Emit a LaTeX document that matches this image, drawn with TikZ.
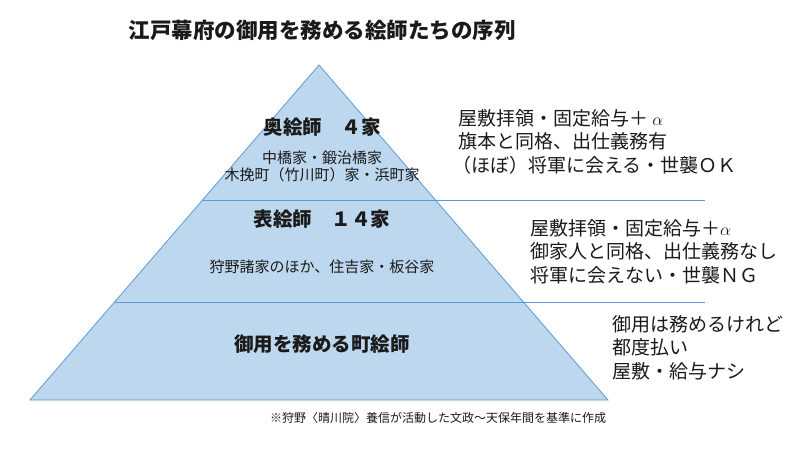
\documentclass[tikz,border=0pt]{standalone}
\usepackage{fontspec}
\setmainfont{Noto Sans CJK JP}
\definecolor{tri}{HTML}{BDD7EE}
\definecolor{edge}{HTML}{5B9BD5}
\definecolor{txt}{HTML}{1A1A1A}
\begin{document}
\begin{tikzpicture}[x=1pt,y=-1pt,
  big/.style={font=\fontsize{19.5}{22}\selectfont\bfseries,text=txt},
  small/.style={font=\fontsize{15}{17}\selectfont,text=txt,align=center},
  side/.style={font=\fontsize{19}{23.5}\selectfont,text=txt,align=left,anchor=north west,inner sep=0pt}]
\useasboundingbox (0,0) rectangle (800,453);
\fill[white] (0,0) rectangle (800,453);
\draw[fill=tri,draw=edge,line width=0.8pt] (319,65) -- (608,400) -- (30,400) -- cycle;
\coordinate (l1) at (202.5,200); \coordinate (r1) at (705,200);
\coordinate (l2) at (115,302); \coordinate (r2) at (705,302);
\draw[edge,line width=0.8pt] (l1) -- (r1);
\draw[edge,line width=0.8pt] (l2) -- (r2);
\node[font=\fontsize{21.5}{24}\selectfont\bfseries,text=txt] (title) at (322,30) {江戸幕府の御用を務める絵師たちの序列};
\node[big] (a) at (322,127) {奥絵師　４家};
\node[small] (a2) at (322,166) {中橋家・鍛治橋家\\木挽町（竹川町）家・浜町家};
\node[big] (b) at (322,219) {表絵師　１４家};
\node[small] (b2) at (322,267) {狩野諸家のほか、住吉家・板谷家};
\node[big] (c) at (322,344) {御用を務める町絵師};
\node[side] (s1) at (452,109) {\hspace{6pt}屋敷拝領・固定給与＋ $\alpha$\\\hspace{6pt}旗本と同格、出仕義務有\\（ほぼ）将軍に会える・世襲ＯＫ};
\node[side] (s2) at (530,219) {屋敷拝領・固定給与＋$\alpha$\\御家人と同格、出仕義務なし\\将軍に会えない・世襲ＮＧ};
\node[side] (s3) at (612,315) {御用は務めるけれど\\都度払い\\屋敷・給与ナシ};
\node[font=\fontsize{12}{14}\selectfont,text=txt] (note) at (438,418) {※狩野〈晴川院〉養信が活動した文政〜天保年間を基準に作成};
\end{tikzpicture}
\end{document}
